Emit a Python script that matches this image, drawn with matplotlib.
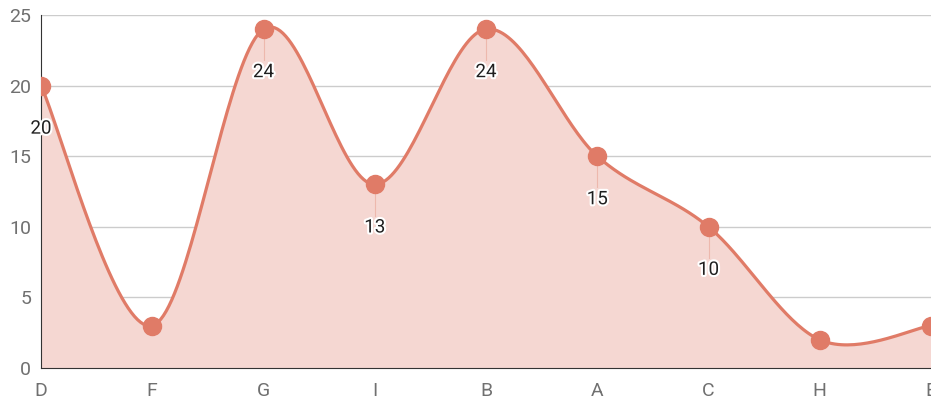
import matplotlib
matplotlib.use('Agg')
import matplotlib.pyplot as plt
import matplotlib.patheffects as pe
import numpy as np

categories = ['D', 'F', 'G', 'I', 'B', 'A', 'C', 'H', 'E']
values = [20, 3, 24, 13, 24, 15, 10, 2, 3]
y_ticks = [0, 5, 10, 15, 20, 25]

LINE = '#e07b67'
FILL = '#f5d7d2'


def catmull_rom(x, y, steps=40):
    # cardinal spline through every point
    x = np.asarray(x, float)
    y = np.asarray(y, float)
    n = len(x)
    mx = np.zeros(n)
    my = np.zeros(n)
    for i in range(n):
        a = max(i - 1, 0)
        b = min(i + 1, n - 1)
        mx[i] = (x[b] - x[a]) / 2
        my[i] = (y[b] - y[a]) / 2
    xs, ys = [], []
    for i in range(n - 1):
        t = np.linspace(0, 1, steps, endpoint=(i == n - 2))
        h00 = 2 * t**3 - 3 * t**2 + 1
        h10 = t**3 - 2 * t**2 + t
        h01 = -2 * t**3 + 3 * t**2
        h11 = t**3 - t**2
        xs.append(h00 * x[i] + h10 * mx[i] + h01 * x[i + 1] + h11 * mx[i + 1])
        ys.append(h00 * y[i] + h10 * my[i] + h01 * y[i + 1] + h11 * my[i + 1])
    return np.concatenate(xs), np.concatenate(ys)


plt.rcParams['font.family'] = ['Roboto', 'DejaVu Sans']

fig = plt.figure(figsize=(9.31, 4.0), dpi=100)
ax = fig.add_axes([41 / 931, 32 / 400, 890 / 931, 353 / 400])

xpos = np.arange(len(categories))
sx, sy = catmull_rom(xpos, values)

ax.fill_between(sx, 0, sy, color=FILL, lw=0, zorder=1)
ax.plot(sx, sy, color=LINE, lw=2.3, zorder=3)
ax.plot(xpos, values, 'o', color=LINE, ms=13, zorder=4)

# value labels with a short leader line under each point
for x, v in zip(xpos, values):
    if v < 5:
        continue
    ax.plot([x, x], [v, v - 2.2], color='#edb8ad', lw=0.8, zorder=2)
    t = ax.text(x, v - 3.05, str(v), ha='center', va='center', fontsize=13.5,
                color='#1f1f1f', zorder=5, clip_on=False)
    t.set_path_effects([pe.withStroke(linewidth=3, foreground='white')])

ax.set_xlim(0, 8)
ax.set_ylim(0, 25)
ax.set_yticks(y_ticks)
ax.set_xticks(xpos)
ax.set_xticklabels(categories)
ax.grid(axis='y', color='#cccccc', lw=1)
ax.set_axisbelow(True)
ax.tick_params(length=0, colors='#707070', labelsize=14)
ax.tick_params(axis='x', pad=10)
ax.tick_params(axis='y', pad=7)

for side in ['top', 'right']:
    ax.spines[side].set_visible(False)
ax.spines['left'].set_color('#333333')
ax.spines['bottom'].set_color('#333333')
ax.spines['left'].set_zorder(2)

fig.savefig('out.png', dpi=100)
